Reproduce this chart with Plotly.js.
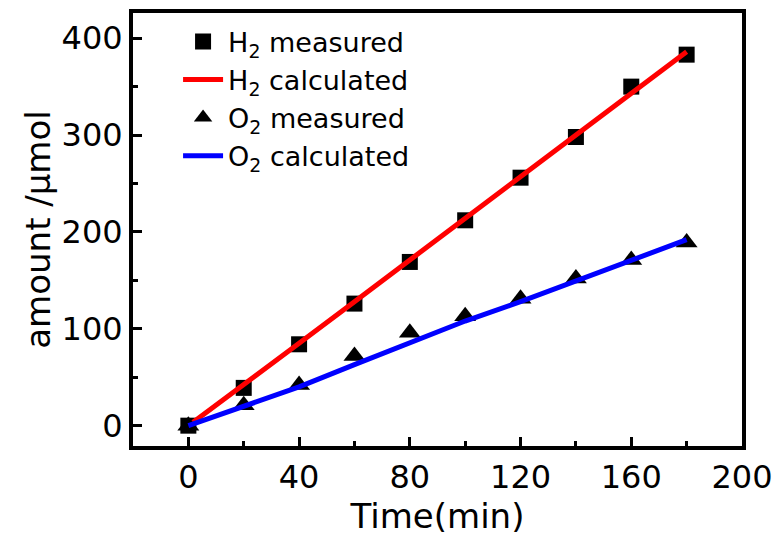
<!DOCTYPE html>
<html>
<head>
<meta charset="utf-8">
<script src="https://cdn.plot.ly/plotly-3.0.1.min.js"></script>
<style>html,body{margin:0;padding:0;background:#fff;}#chart{width:778px;height:539px;}</style>
</head>
<body>
<div id="chart"></div>
<script>
const time = [0, 20, 40, 60, 80, 100, 120, 140, 160, 180];
const h2Measured = [0, 39, 84, 126, 169, 212, 256, 298, 350, 383];
const h2Calculated = [0, 42, 85, 128, 171, 214, 256, 299, 342, 386];
const o2Measured = [0, 21, 42, 72, 96, 113, 131, 152, 171, 189];
const o2Calculated = [0, 20, 40, 63, 85, 108, 128, 149, 170, 192];
const seriesNames = ['H<sub>2</sub> measured', 'H<sub>2</sub> calculated', 'O<sub>2</sub> measured', 'O<sub>2</sub> calculated'];
const xTicks = [0, 40, 80, 120, 160, 200];
const xMinorTicks = [20, 60, 100, 140, 180];
const yTicks = [0, 100, 200, 300, 400];
const yMinorTicks = [50, 150, 250, 350];

const FONT = 'DejaVu Sans, Arial, sans-serif';

const traces = [
  {x: time, y: h2Measured, name: seriesNames[0], mode: 'markers', type: 'scatter',
   marker: {symbol: 'square', size: 16, color: '#000'}, cliponaxis: false},
  {x: time, y: h2Calculated, name: seriesNames[1], mode: 'lines', type: 'scatter',
   line: {color: '#ff0000', width: 5}},
  {x: time, y: o2Measured, name: seriesNames[2], mode: 'markers', type: 'scatter',
   marker: {symbol: 'triangle-up', size: 19, color: '#000'}, cliponaxis: false},
  {x: time, y: o2Calculated, name: seriesNames[3], mode: 'lines', type: 'scatter',
   line: {color: '#0000ff', width: 5}}
];

const axisCommon = {
  showgrid: false, zeroline: false, showline: true, mirror: true,
  linecolor: '#000', linewidth: 4,
  ticks: 'inside', ticklen: 9, tickwidth: 3, tickcolor: '#000',
  tickfont: {family: FONT, size: 32, color: '#000'}
};

const layout = {
  width: 778, height: 539,
  margin: {l: 133, r: 36, t: 13, b: 93},
  paper_bgcolor: '#fff', plot_bgcolor: '#fff',
  showlegend: true,
  legend: {x: 0.074, y: 0.99, xanchor: 'left', yanchor: 'top', itemwidth: 40,
    bgcolor: 'rgba(0,0,0,0)', borderwidth: 0, tracegroupgap: 0,
    font: {family: FONT, size: 27, color: '#000'}},
  xaxis: Object.assign({}, axisCommon, {
    range: [-20, 200], tickvals: xTicks, ticktext: xTicks.map(String),
    minor: {tickvals: xMinorTicks, ticks: 'inside', ticklen: 5, tickwidth: 3, tickcolor: '#000'},
    title: {text: 'Time(min)', standoff: 4, font: {family: FONT, size: 34, color: '#000'}}
  }),
  yaxis: Object.assign({}, axisCommon, {
    range: [-21, 426], tickvals: yTicks, ticktext: yTicks.map(String),
    minor: {tickvals: yMinorTicks, ticks: 'inside', ticklen: 5, tickwidth: 3, tickcolor: '#000'},
    title: {text: 'amount /μmol', standoff: 2, font: {family: FONT, size: 34, color: '#000'}}
  })
};

Plotly.newPlot('chart', traces, layout, {displayModeBar: false, staticPlot: true});
</script>
</body>
</html>
